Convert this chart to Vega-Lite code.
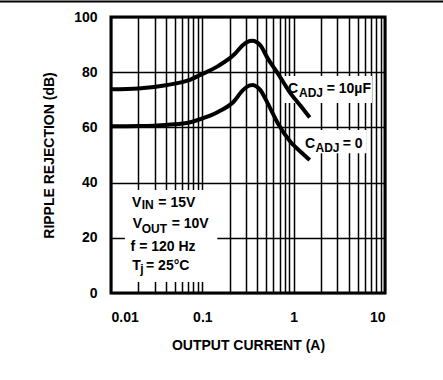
{
  "$schema": "https://vega.github.io/schema/vega-lite/v6.json",
  "width": 274,
  "height": 276,
  "autosize": "none",
  "padding": {"left": 111, "top": 17, "right": 58, "bottom": 87},
  "background": "white",
  "config": {
    "font": "Liberation Sans",
    "view": {"stroke": "black", "strokeWidth": 3},
    "axis": {
      "grid": true,
      "gridColor": "black",
      "gridWidth": 1.5,
      "gridOpacity": 1,
      "domain": false,
      "ticks": false,
      "tickSize": 0,
      "labelFontSize": 14,
      "labelFontWeight": "bold",
      "labelColor": "black",
      "labelOverlap": false,
      "titleFontSize": 14,
      "titleFontWeight": "bold",
      "titleColor": "black"
    }
  },
  "datasets": {
    "curves": [
      {"current": 0.01, "db": 73.8, "series": "CADJ = 10uF"},
      {"current": 0.02, "db": 74.1, "series": "CADJ = 10uF"},
      {"current": 0.04, "db": 75.3, "series": "CADJ = 10uF"},
      {"current": 0.07, "db": 77.0, "series": "CADJ = 10uF"},
      {"current": 0.095, "db": 79.0, "series": "CADJ = 10uF"},
      {"current": 0.15, "db": 82.3, "series": "CADJ = 10uF"},
      {"current": 0.22, "db": 86.2, "series": "CADJ = 10uF"},
      {"current": 0.28, "db": 89.9, "series": "CADJ = 10uF"},
      {"current": 0.33, "db": 91.3, "series": "CADJ = 10uF"},
      {"current": 0.36, "db": 91.4, "series": "CADJ = 10uF"},
      {"current": 0.40, "db": 90.7, "series": "CADJ = 10uF"},
      {"current": 0.43, "db": 89.8, "series": "CADJ = 10uF"},
      {"current": 0.52, "db": 85.0, "series": "CADJ = 10uF"},
      {"current": 0.67, "db": 79.6, "series": "CADJ = 10uF"},
      {"current": 0.92, "db": 72.4, "series": "CADJ = 10uF"},
      {"current": 1.19, "db": 67.8, "series": "CADJ = 10uF"},
      {"current": 1.5, "db": 63.6, "series": "CADJ = 10uF"},
      {"current": 0.01, "db": 60.4, "series": "CADJ = 0"},
      {"current": 0.02, "db": 60.5, "series": "CADJ = 0"},
      {"current": 0.04, "db": 60.9, "series": "CADJ = 0"},
      {"current": 0.07, "db": 61.7, "series": "CADJ = 0"},
      {"current": 0.095, "db": 63.0, "series": "CADJ = 0"},
      {"current": 0.15, "db": 65.7, "series": "CADJ = 0"},
      {"current": 0.22, "db": 69.3, "series": "CADJ = 0"},
      {"current": 0.28, "db": 73.6, "series": "CADJ = 0"},
      {"current": 0.33, "db": 75.2, "series": "CADJ = 0"},
      {"current": 0.36, "db": 75.4, "series": "CADJ = 0"},
      {"current": 0.40, "db": 74.6, "series": "CADJ = 0"},
      {"current": 0.43, "db": 73.6, "series": "CADJ = 0"},
      {"current": 0.52, "db": 68.7, "series": "CADJ = 0"},
      {"current": 0.67, "db": 61.5, "series": "CADJ = 0"},
      {"current": 0.92, "db": 54.8, "series": "CADJ = 0"},
      {"current": 1.19, "db": 51.2, "series": "CADJ = 0"},
      {"current": 1.5, "db": 48.2, "series": "CADJ = 0"}
    ],
    "boxes": [
      {"current": 0.0142, "current2": 0.146, "db": 4, "db2": 37.3},
      {"current": 0.78, "current2": 7.2, "db": 68.8, "db2": 78.6},
      {"current": 1.2, "current2": 6.3, "db": 50.6, "db2": 59.1}
    ],
    "maintext": [
      {"current": 0.0170, "db": 31.05, "text": "V"},
      {"current": 0.0330, "db": 31.05, "text": "= 15V"},
      {"current": 0.0173, "db": 23.44, "text": "V"},
      {"current": 0.0462, "db": 23.44, "text": "= 10V"},
      {"current": 0.0164, "db": 15.33, "text": "f = 120 Hz"},
      {"current": 0.0171, "db": 8.33, "text": "T"},
      {"current": 0.0242, "db": 8.33, "text": "= 25°C"},
      {"current": 0.867, "db": 72.4, "text": "C"},
      {"current": 2.30, "db": 72.6, "text": "= 10µF"},
      {"current": 1.33, "db": 52.4, "text": "C"},
      {"current": 3.44, "db": 52.4, "text": "= 0"}
    ],
    "subtext": [
      {"current": 0.0217, "db": 30.3, "text": "IN"},
      {"current": 0.0217, "db": 21.6, "text": "OUT"},
      {"current": 0.0209, "db": 7.1, "text": "j"},
      {"current": 1.144, "db": 71.1, "text": "ADJ"},
      {"current": 1.734, "db": 51.0, "text": "ADJ"}
    ],
    "frame": [
      {"current": 0.0001, "current2": 1000, "db": 105.6}
    ]
  },
  "encoding": {
    "x": {
      "field": "current",
      "type": "quantitative",
      "scale": {"type": "log", "domain": [0.01, 10], "nice": false},
      "axis": {
        "values": [0.01, 0.02, 0.03, 0.04, 0.05, 0.06, 0.07, 0.08, 0.09, 0.1, 0.2, 0.3, 0.4, 0.5, 0.6, 0.7, 0.8, 0.9, 1, 2, 3, 4, 5, 6, 7, 8, 9, 10],
        "format": "~g",
        "labelExpr": "(datum.value == 0.01 || datum.value == 0.1 || datum.value == 1 || datum.value == 10) ? datum.label : ''",
        "labelPadding": 17,
        "labelBaseline": "top",
        "title": "OUTPUT CURRENT (A)",
        "titleY": 45,
        "titleBaseline": "top"
      }
    },
    "y": {
      "field": "db",
      "type": "quantitative",
      "scale": {"domain": [0, 100], "nice": false, "zero": false},
      "axis": {
        "values": [0, 20, 40, 60, 80, 100],
        "labelPadding": 14,
        "title": "RIPPLE REJECTION (dB)",
        "titleAngle": -90,
        "titleX": -62,
        "titleY": 138,
        "titleAlign": "center",
        "titleBaseline": "middle"
      }
    }
  },
  "layer": [
    {
      "data": {"name": "boxes"},
      "mark": {"type": "rect", "fill": "white", "stroke": null},
      "encoding": {"x2": {"field": "current2"}, "y2": {"field": "db2"}}
    },
    {
      "data": {"name": "curves"},
      "mark": {"type": "line", "color": "black", "strokeWidth": 4, "interpolate": "monotone"},
      "encoding": {"detail": {"field": "series", "type": "nominal"}}
    },
    {
      "data": {"name": "maintext"},
      "mark": {"type": "text", "align": "left", "baseline": "alphabetic", "fontSize": 14, "fontWeight": "bold", "color": "black"},
      "encoding": {"text": {"field": "text", "type": "nominal"}}
    },
    {
      "data": {"name": "subtext"},
      "mark": {"type": "text", "align": "left", "baseline": "alphabetic", "fontSize": 12, "fontWeight": "bold", "color": "black"},
      "encoding": {"text": {"field": "text", "type": "nominal"}}
    },
    {
      "data": {"name": "frame"},
      "mark": {"type": "rule", "color": "black", "strokeWidth": 2, "clip": false},
      "encoding": {"x2": {"field": "current2"}}
    }
  ]
}
